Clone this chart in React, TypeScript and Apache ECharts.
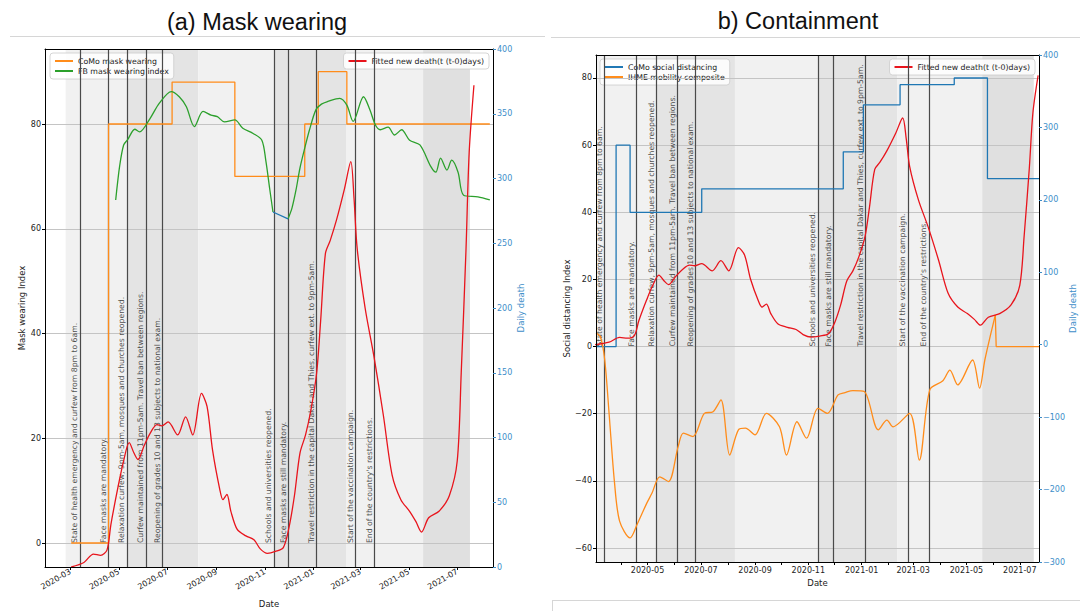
import React, { useEffect, useRef } from 'react';
import * as echarts from 'echarts';

// ---------------- data ----------------
const maskRange = ['2020-01-29', '2021-08-15'];
const containRange = ['2020-03-03', '2021-07-23'];

const maskTickLabels = ['2020-03', '2020-05', '2020-07', '2020-09', '2020-11', '2021-01', '2021-03', '2021-05', '2021-07'];
const containTickLabels = ['2020-05', '2020-07', '2020-09', '2020-11', '2021-01', '2021-03', '2021-05', '2021-07'];
const containMinorTicks = ['2020-04', '2020-05', '2020-06', '2020-07', '2020-08', '2020-09', '2020-10', '2020-11', '2020-12', '2021-01', '2021-02', '2021-03', '2021-04', '2021-05', '2021-06', '2021-07'];
const maskIndexTicks = [0, 20, 40, 60, 80];
const deathTicksA = [0, 50, 100, 150, 200, 250, 300, 350, 400];
const distancingTicks = [-60, -40, -20, 0, 20, 40, 60, 80];
const deathTicksB = [-300, -200, -100, 0, 100, 200, 300, 400];

const deathDates = ['2020-03-02', '2020-03-18', '2020-03-30', '2020-04-08', '2020-04-16', '2020-04-21', '2020-04-30', '2020-05-07', '2020-05-14', '2020-05-20', '2020-05-25', '2020-06-02', '2020-06-10', '2020-06-18', '2020-06-24', '2020-07-02', '2020-07-14', '2020-07-24', '2020-08-02', '2020-08-13', '2020-08-20', '2020-08-27', '2020-09-05', '2020-09-09', '2020-09-14', '2020-09-19', '2020-09-27', '2020-10-08', '2020-10-18', '2020-10-26', '2020-11-04', '2020-11-14', '2020-11-24', '2020-12-01', '2020-12-08', '2020-12-15', '2020-12-22', '2020-12-29', '2021-01-05', '2021-01-10', '2021-01-16', '2021-01-22', '2021-01-30', '2021-02-09', '2021-02-17', '2021-02-21', '2021-02-25', '2021-03-07', '2021-03-18', '2021-03-30', '2021-04-10', '2021-04-21', '2021-05-02', '2021-05-10', '2021-05-17', '2021-05-26', '2021-06-08', '2021-06-21', '2021-07-01', '2021-07-06', '2021-07-12', '2021-07-16', '2021-07-22'];
const deathValues = [0, 3.5, 10, 9, 13, 33, 62, 82, 96, 88, 83, 94, 104, 110, 109, 112, 102, 116, 102, 134, 124, 90, 60, 52, 56, 43, 29, 24, 21, 14, 10.5, 12, 15, 30, 55, 88, 102, 122, 150, 190, 242, 252, 268, 292, 313, 285, 246, 200, 163, 117, 71, 52, 43, 35, 27, 38, 43, 55, 82, 150, 245, 320, 372];

const comoMaskDates = ['2020-03-02', '2020-04-18', '2020-07-07', '2020-09-24', '2020-12-21', '2021-01-07', '2021-02-12', '2021-08-11'];
const comoMaskValues = [0, 80, 88, 70, 80, 90, 80, 80];

const fbMaskDates = ['2020-04-27', '2020-05-02', '2020-05-07', '2020-05-12', '2020-05-21', '2020-05-27', '2020-06-09', '2020-06-21', '2020-07-06', '2020-07-16', '2020-07-25', '2020-08-04', '2020-08-15', '2020-08-25', '2020-09-02', '2020-09-11', '2020-09-24', '2020-10-04', '2020-10-17', '2020-10-28', '2020-11-02', '2020-11-07', '2020-11-11', '2020-11-20', '2020-11-30', '2020-12-05', '2020-12-10', '2020-12-15', '2020-12-21', '2020-12-27', '2021-01-04', '2021-01-11', '2021-01-19', '2021-02-03', '2021-02-12', '2021-02-20', '2021-03-05', '2021-03-13', '2021-03-20', '2021-03-26', '2021-04-05', '2021-04-13', '2021-04-22', '2021-05-02', '2021-05-15', '2021-05-29', '2021-06-04', '2021-06-10', '2021-06-18', '2021-06-24', '2021-07-02', '2021-07-09', '2021-07-27', '2021-08-11'];
const fbMaskValues = [65.5, 72, 76, 77, 79, 78.5, 81, 84, 86.2, 85.2, 83.3, 79.5, 82.4, 81.7, 81.4, 80.4, 80.8, 79.2, 78.2, 76.9, 73, 67.5, 63.2, null, 61.9, 64, 67.4, 71.6, 75.4, 78.9, 82.7, 83.8, 84.3, 84.9, 83.6, 80.5, 85.2, 82.7, 79.8, 78.9, 79.4, 77.9, 78.9, 76.9, 76, 71.8, 70.8, 73.5, 71.2, 73.1, 70.8, 66.4, 66.1, 65.5];
const fbGapDates = ['2020-11-11', '2020-11-30'];
const fbGapValues = [63.2, 61.9];

const comoDistDates = ['2020-03-03', '2020-03-26', '2020-04-11', '2020-07-02', '2020-12-11', '2021-01-03', '2021-02-14', '2021-04-17', '2021-05-25', '2021-07-23'];
const comoDistValues = [0, 60, 40, 47, 58, 72, 78, 80, 50, 50];

const ihmeDates = ['2020-03-03', '2020-03-08', '2020-03-13', '2020-03-18', '2020-03-24', '2020-03-30', '2020-04-11', '2020-04-19', '2020-04-30', '2020-05-06', '2020-05-15', '2020-05-25', '2020-06-05', '2020-06-11', '2020-06-22', '2020-07-05', '2020-07-15', '2020-07-24', '2020-08-03', '2020-08-13', '2020-08-21', '2020-09-01', '2020-09-14', '2020-09-29', '2020-10-07', '2020-10-19', '2020-10-30', '2020-11-12', '2020-11-23', '2020-12-05', '2020-12-13', '2020-12-22', '2021-01-04', '2021-01-20', '2021-01-30', '2021-02-06', '2021-02-25', '2021-03-08', '2021-03-20', '2021-04-04', '2021-04-12', '2021-04-21', '2021-05-08', '2021-05-16', '2021-05-22', '2021-05-29', '2021-06-03'];
const ihmeValues = [4, 3, -4, -20, -40, -52, -57, -53, -46.7, -43.7, -38.8, -40.2, -29.8, -25.8, -26.8, -19.9, -19.4, -15.9, -32.3, -24.8, -24.3, -26.3, -19.9, -23.9, -32.3, -22.4, -27.3, -18.4, -19.9, -14.4, -13.7, -13.1, -13.4, -24.8, -21.9, -23.9, -19.9, -33.8, -12.9, -10.2, -7, -11.4, -4, -12.4, -4, 4, 9.4];
const ihmeTailDates = ['2021-06-03', '2021-06-04', '2021-07-23'];
const ihmeTailValues = [9.4, 0, 0];

const eventDates = ['2020-03-13', '2020-04-18', '2020-05-11', '2020-06-04', '2020-06-25', '2020-11-12', '2020-11-30', '2021-01-05', '2021-02-23', '2021-03-19'];
const eventLabels = [
  'State of health emergency and curfew from 8pm to 6am.',
  'Face masks are mandatory.',
  'Relaxation curfew, 9pm-5am, mosques and churches reopened.',
  'Curfew maintained from 11pm-5am. Travel ban between regions.',
  'Reopening of grades 10 and 13 subjects to national exam.',
  'Schools and universities reopened.',
  'Face masks are still mandatory.',
  'Travel restriction in the capital Dakar and Thies, curfew ext. to 9pm-5am.',
  'Start of the vaccination campaign.',
  "End of the country's restrictions.",
];

const periodStarts = ['2020-02-24', '2020-05-11', '2020-08-09', '2020-11-12', '2021-02-11', '2021-05-19'];
const periodEnds = ['2020-05-11', '2020-08-09', '2020-11-12', '2021-02-11', '2021-05-19', '2021-07-17'];

// ---------------- styles ----------------
const SHADES = ['#f1f1f1', '#e4e4e4', '#f1f1f1', '#e4e4e4', '#f1f1f1', '#e0e0e0'];
const FONT = 'DejaVu Sans';
const ORANGE = '#ff8c1a';
const GREEN = '#2ca02c';
const BLUE = '#1f77b4';
const RED = '#e8141c';
const AXBLUE = '#3d8ec9';
const TXT = '#222';
const DEATH = 'Fitted new death(t (t-0)days)';

const ts = (s: string) => {
  const p = s.split('-').map(Number);
  return new Date(p[0], (p[1] || 1) - 1, p[2] || 1).getTime();
};
const pairs = (d: string[], v: (number | null)[]) => d.map((x, i) => [ts(x), v[i] == null ? '-' : v[i]]);
const fmtMonth = (v: number) => {
  const d = new Date(v);
  return d.getFullYear() + '-' + String(d.getMonth() + 1).padStart(2, '0');
};
const fmtNum = (v: number) => (v < 0 ? '\u2212' + Math.abs(v) : String(v));

function buildOption() {
  const aMin = ts(maskRange[0]);
  const aMax = ts(maskRange[1]);
  const bMin = ts(containRange[0]);
  const bMax = ts(containRange[1]);

  const helper = (xIdx: number, yIdx: number, gridVals: number[], xMin: number) => ({
    type: 'line',
    name: '_bg',
    data: [],
    xAxisIndex: xIdx,
    yAxisIndex: yIdx,
    silent: true,
    z: 1,
    markArea: {
      silent: true,
      data: periodStarts.map((s, i) => [
        { xAxis: Math.max(ts(s), xMin), itemStyle: { color: SHADES[i], opacity: 1 } },
        { xAxis: ts(periodEnds[i]) },
      ]),
    },
    markLine: {
      silent: true,
      symbol: ['none', 'none'],
      label: { show: false },
      lineStyle: { type: 'solid' },
      data: [
        ...gridVals.map((v) => ({ yAxis: v, lineStyle: { color: '#c4c4c4', width: 1, type: 'solid' } })),
        ...eventDates.map((d) => ({ xAxis: ts(d), lineStyle: { color: '#4a4a4a', width: 1.2, type: 'solid' } })),
      ],
    },
  });

  const events = (xIdx: number, yIdx: number) => ({
    type: 'scatter',
    name: '_ev',
    xAxisIndex: xIdx,
    yAxisIndex: yIdx,
    symbol: 'circle',
    symbolSize: 2,
    itemStyle: { color: 'rgba(0,0,0,0)' },
    silent: true,
    z: 8,
    clip: false,
    data: eventDates.map((d, i) => ({ name: eventLabels[i], value: [ts(d), 0] })),
    label: {
      show: true,
      formatter: '{b}',
      rotate: 90,
      position: [0, 1],
      align: 'left',
      verticalAlign: 'bottom',
      fontSize: 7.7,
      fontFamily: FONT,
      color: TXT,
    },
  });

  const line = (name: string, xIdx: number, yIdx: number, data: any[], color: string, extra: any = {}) => ({
    type: 'line',
    name,
    xAxisIndex: xIdx,
    yAxisIndex: yIdx,
    data,
    color,
    showSymbol: false,
    symbol: 'none',
    lineStyle: { color, width: 1.3 },
    z: 10,
    silent: true,
    ...extra,
  });

  const xBottom = (gridIndex: number, min: number, max: number, labels: string[], ticks: string[], rotate: number, nameGap: number) => ({
    type: 'value',
    gridIndex,
    min,
    max,
    position: 'bottom',
    z: 20,
    axisLine: { show: true, onZero: false, lineStyle: { color: '#000', width: 1 } },
    axisTick: { show: true, customValues: ticks.map(ts), length: 3, lineStyle: { color: '#000' } },
    axisLabel: {
      customValues: labels.map(ts),
      formatter: fmtMonth,
      rotate,
      fontSize: 8,
      fontFamily: FONT,
      color: TXT,
      margin: 4,
      hideOverlap: false,
    },
    splitLine: { show: false },
    name: 'Date',
    nameLocation: 'middle',
    nameGap,
    nameTextStyle: { fontSize: 8.5, fontFamily: FONT, color: TXT },
  });
  const xTop = (gridIndex: number, min: number, max: number) => ({
    type: 'value',
    gridIndex,
    min,
    max,
    position: 'top',
    z: 20,
    axisLine: { show: true, onZero: false, lineStyle: { color: '#000', width: 1 } },
    axisTick: { show: false },
    axisLabel: { show: false },
    splitLine: { show: false },
  });
  const yAx = (gridIndex: number, position: string, min: number, max: number, ticks: number[], name: string, nameGap: number, color: string) => ({
    type: 'value',
    gridIndex,
    position,
    min,
    max,
    z: 20,
    axisLine: { show: true, onZero: false, lineStyle: { color: '#000', width: 1 } },
    axisTick: { show: true, customValues: ticks, length: 3, lineStyle: { color: color === TXT ? '#000' : color } },
    axisLabel: { customValues: ticks, formatter: fmtNum, fontSize: 8, fontFamily: FONT, color, margin: 4 },
    splitLine: { show: false },
    name,
    nameLocation: 'middle',
    nameGap,
    nameTextStyle: { fontSize: 8.5, fontFamily: FONT, color },
  });

  const legendBase = {
    orient: 'vertical',
    icon: 'rect',
    itemWidth: 18,
    itemHeight: 2,
    itemGap: 2,
    padding: [4, 5],
    backgroundColor: 'rgba(255,255,255,0.85)',
    borderColor: '#cccccc',
    borderWidth: 0.8,
    borderRadius: 3,
    selectedMode: false,
    textStyle: { fontSize: 7.8, fontFamily: FONT, color: TXT },
  };

  return {
    animation: false,
    backgroundColor: '#ffffff',
    textStyle: { fontFamily: FONT },
    grid: [
      { left: 45, top: 49, width: 448, height: 518, containLabel: false, outerBoundsMode: 'none' },
      { left: 596, top: 55, width: 443, height: 507, containLabel: false, outerBoundsMode: 'none' },
    ],
    xAxis: [
      xBottom(0, aMin, aMax, maskTickLabels, maskTickLabels, 30, 32),
      xBottom(1, bMin, bMax, containTickLabels, containMinorTicks, 0, 16),
      xTop(0, aMin, aMax),
      xTop(1, bMin, bMax),
    ],
    yAxis: [
      yAx(0, 'left', -4.58, 94.32, maskIndexTicks, 'Mask wearing Index', 18, TXT),
      yAx(0, 'right', 0, 400, deathTicksA, 'Daily death', 16, AXBLUE),
      yAx(1, 'left', -64.17, 86.85, distancingTicks, 'Social distancing Index', 24, TXT),
      yAx(1, 'right', -300, 400, deathTicksB, 'Daily death', 14, AXBLUE),
    ],
    legend: [
      { ...legendBase, left: 50, top: 53, data: ['CoMo mask wearing', 'FB mask wearing index'] },
      { ...legendBase, right: 591, top: 53, data: [DEATH] },
      { ...legendBase, left: 600, top: 59, data: ['CoMo social distancing', 'IHME mobility composite'] },
      { ...legendBase, right: 45, top: 59, data: [DEATH] },
    ],
    graphic: [
      { type: 'text', x: 257, y: 22, style: { text: '(a) Mask wearing', fontSize: 23.5, fontFamily: 'Liberation Sans', fill: '#111', align: 'center', verticalAlign: 'middle' } },
      { type: 'text', x: 798, y: 21, style: { text: 'b) Containment', fontSize: 23.5, fontFamily: 'Liberation Sans', fill: '#111', align: 'center', verticalAlign: 'middle' } },
      { type: 'line', shape: { x1: 10, y1: 36.5, x2: 545, y2: 36.5 }, style: { stroke: '#d6d6d6', lineWidth: 1 } },
      { type: 'line', shape: { x1: 551, y1: 37.5, x2: 1080, y2: 37.5 }, style: { stroke: '#d6d6d6', lineWidth: 1 } },
      { type: 'line', shape: { x1: 552, y1: 600.5, x2: 1080, y2: 600.5 }, style: { stroke: '#d6d6d6', lineWidth: 1 } },
      { type: 'line', shape: { x1: 552.5, y1: 600, x2: 552.5, y2: 611 }, style: { stroke: '#d6d6d6', lineWidth: 1 } },
    ],
    series: [
      // panel (a)
      helper(0, 0, maskIndexTicks, aMin),
      events(0, 0),
      line('CoMo mask wearing', 0, 0, pairs(comoMaskDates, comoMaskValues), ORANGE, { step: 'end' }),
      line('FB mask wearing index', 0, 0, pairs(fbMaskDates, fbMaskValues), GREEN, { smooth: 0.3, connectNulls: false }),
      line('FB gap', 0, 0, pairs(fbGapDates, fbGapValues), BLUE),
      line(DEATH, 0, 1, pairs(deathDates, deathValues), RED, { smooth: 0.3 }),
      // panel (b)
      helper(1, 2, distancingTicks, bMin),
      events(1, 2),
      line('CoMo social distancing', 1, 2, pairs(comoDistDates, comoDistValues), BLUE, { step: 'end' }),
      line('IHME mobility composite', 1, 2, pairs(ihmeDates, ihmeValues), ORANGE, { smooth: 0.3 }),
      line('IHME mobility composite', 1, 2, pairs(ihmeTailDates, ihmeTailValues), ORANGE),
      line(DEATH, 1, 3, pairs(deathDates, deathValues), RED, { smooth: 0.3 }),
    ],
  };
}

export default function App() {
  const ref = useRef<HTMLDivElement>(null);
  useEffect(() => {
    if (!ref.current) return;
    const chart = echarts.init(ref.current, null, { renderer: 'svg' });
    chart.setOption(buildOption() as any);
    return () => chart.dispose();
  }, []);
  return (
    <div
      ref={ref}
      style={{ position: 'fixed', left: 0, top: 0, width: 1080, height: 611, background: '#fff' }}
    />
  );
}
